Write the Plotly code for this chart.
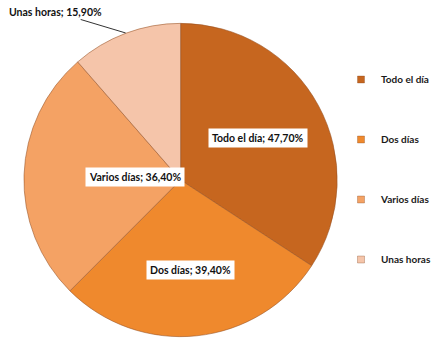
import math
import plotly.graph_objects as go

# Survey shares per duration category
categories = ["Todo el día", "Dos días", "Varios días", "Unas horas"]
percentages = [47.70, 39.40, 36.40, 15.90]
colors = ["#c6661f", "#ef892d", "#f4a264", "#f5c5aa"]

W, H = 436, 341
cx, cy, r = 181, 180, 157          # pie centre and radius in pixels
label_radius = [0.56, 0.64, 0.61]  # radial placement of inside labels

fig = go.Figure()
fig.add_trace(go.Pie(
    labels=categories,
    values=percentages,
    sort=False,
    direction="clockwise",
    rotation=0,
    marker=dict(colors=colors, line=dict(color="rgba(150,80,35,0.55)", width=1)),
    textinfo="none",
    hoverinfo="skip",
    showlegend=False,
    domain=dict(x=[(cx - r) / W, (cx + r) / W], y=[1 - (cy + r) / H, 1 - (cy - r) / H]),
))

# Legend entries, one group each so the legend can be spaced out
for name, col in zip(categories, colors):
    fig.add_trace(go.Scatter(
        x=[None], y=[None], mode="markers", name=name, legendgroup=name,
        marker=dict(symbol="square", size=7, color=col,
                    line=dict(color="rgba(120,60,20,0.6)", width=0.5)),
    ))

def fmt(v):
    return f"{v:.2f}".replace(".", ",") + "%"

total = sum(percentages)
annotations = []
start = 0.0
for i, (name, v) in enumerate(zip(categories, percentages)):
    span = v / total * 360.0
    mid = math.radians(start + span / 2)
    start += span
    text = f"<b>{name}; {fmt(v)}</b>"
    if i < len(label_radius):
        f = label_radius[i]
        px = cx + f * r * math.sin(mid)
        py = cy - f * r * math.cos(mid)
        annotations.append(dict(
            x=px / W, y=1 - py / H, xref="paper", yref="paper",
            text=text, showarrow=False, bgcolor="white", borderpad=3,
            font=dict(family="Lato", size=10.5, color="#111111"),
        ))
    else:
        # small slice: label outside with a leader line to the rim
        ex = cx + r * math.sin(mid)
        ey = cy - r * math.cos(mid)
        annotations.append(dict(
            x=ex / W, y=1 - ey / H, xref="paper", yref="paper",
            text=text, showarrow=True, arrowhead=0, arrowwidth=1,
            arrowcolor="#333333", ax=-70, ay=-21, standoff=0,
            font=dict(family="Lato", size=10.5, color="#111111"),
        ))

fig.update_layout(
    width=W, height=H,
    margin=dict(l=0, r=0, t=0, b=0),
    paper_bgcolor="white", plot_bgcolor="white",
    xaxis=dict(visible=False), yaxis=dict(visible=False),
    annotations=annotations,
    legend=dict(
        x=342 / W, y=1 - 65 / H, xanchor="left", yanchor="top",
        tracegroupgap=41, itemwidth=30,
        font=dict(family="Lato", size=10, color="#1a1a1a", weight="bold"),
        bgcolor="rgba(0,0,0,0)",
    ),
)

fig.write_html("out.html")
